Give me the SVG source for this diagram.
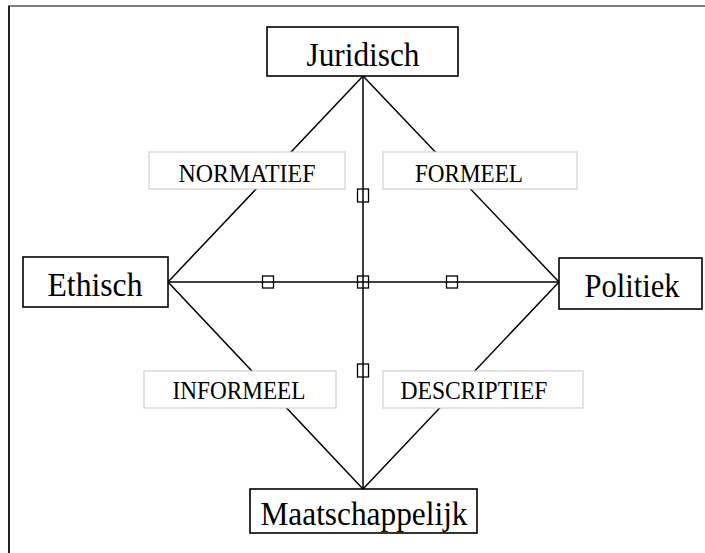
<svg xmlns="http://www.w3.org/2000/svg" width="705" height="553" viewBox="0 0 705 553">
  <style>
    .node rect { fill: #fff; stroke: #000; stroke-width: 1.6; }
    .node text { font-family: "Liberation Serif", "Times New Roman", serif; font-size: 33px; fill: #000; text-anchor: middle; }
    .label rect { fill: #fff; stroke: #c8c8c8; stroke-width: 1; }
    .label text { font-family: "Liberation Serif", "Times New Roman", serif; font-size: 25px; fill: #000; text-anchor: middle; }
    .edge { stroke: #000; stroke-width: 1.5; fill: none; }
    .tick { stroke: #000; stroke-width: 1.3; fill: none; }
  </style>
  <rect width="705" height="553" fill="#fff"/>
  <!-- frame -->
  <line x1="8" y1="6" x2="705" y2="6" stroke="#555" stroke-width="1.5"/>
  <line x1="9" y1="6" x2="9" y2="553" stroke="#222" stroke-width="2"/>

  <!-- connectors -->
  <g id="connectors">
    <line class="edge" x1="363" y1="76" x2="168" y2="282"/>
    <line class="edge" x1="363" y1="76" x2="559" y2="282"/>
    <line class="edge" x1="168" y1="282" x2="363" y2="489"/>
    <line class="edge" x1="559" y1="282" x2="363" y2="489"/>
    <line class="edge" x1="363" y1="76" x2="363" y2="489"/>
    <line class="edge" x1="168" y1="282" x2="559" y2="282"/>
  </g>

  <!-- dimension labels on the diagonals -->
  <g id="label-normatief" class="label">
    <rect x="149" y="152" width="196" height="37"/>
    <text x="247" y="182" textLength="137" lengthAdjust="spacingAndGlyphs">NORMATIEF</text>
  </g>
  <g id="label-formeel" class="label">
    <rect x="383" y="152" width="194" height="37"/>
    <text x="469" y="182" textLength="108" lengthAdjust="spacingAndGlyphs">FORMEEL</text>
  </g>
  <g id="label-informeel" class="label">
    <rect x="144" y="371" width="192" height="37"/>
    <text x="239" y="399" textLength="133" lengthAdjust="spacingAndGlyphs">INFORMEEL</text>
  </g>
  <g id="label-descriptief" class="label">
    <rect x="383" y="371" width="200" height="37"/>
    <text x="474" y="399" textLength="147" lengthAdjust="spacingAndGlyphs">DESCRIPTIEF</text>
  </g>

  <!-- small markers on the axes -->
  <g id="markers">
    <rect class="tick" x="262.5" y="276" width="11" height="12"/>
    <rect class="tick" x="357.5" y="276" width="11" height="12"/>
    <rect class="tick" x="446.5" y="276" width="11" height="12"/>
    <rect class="tick" x="357.5" y="189" width="11" height="13"/>
    <rect class="tick" x="357.5" y="364" width="11" height="13"/>
  </g>

  <!-- nodes -->
  <g id="juridisch" class="node">
    <rect x="267" y="27" width="191" height="49"/>
    <text x="363" y="66" textLength="113" lengthAdjust="spacingAndGlyphs">Juridisch</text>
  </g>
  <g id="ethisch" class="node">
    <rect x="23" y="257" width="145" height="50"/>
    <text x="95" y="296" textLength="95" lengthAdjust="spacingAndGlyphs">Ethisch</text>
  </g>
  <g id="politiek" class="node">
    <rect x="559" y="258" width="143" height="51"/>
    <text x="632" y="297" textLength="95" lengthAdjust="spacingAndGlyphs">Politiek</text>
  </g>
  <g id="maatschappelijk" class="node">
    <rect x="250" y="489" width="227" height="44"/>
    <text x="364" y="525" textLength="207" lengthAdjust="spacingAndGlyphs">Maatschappelijk</text>
  </g>
</svg>
